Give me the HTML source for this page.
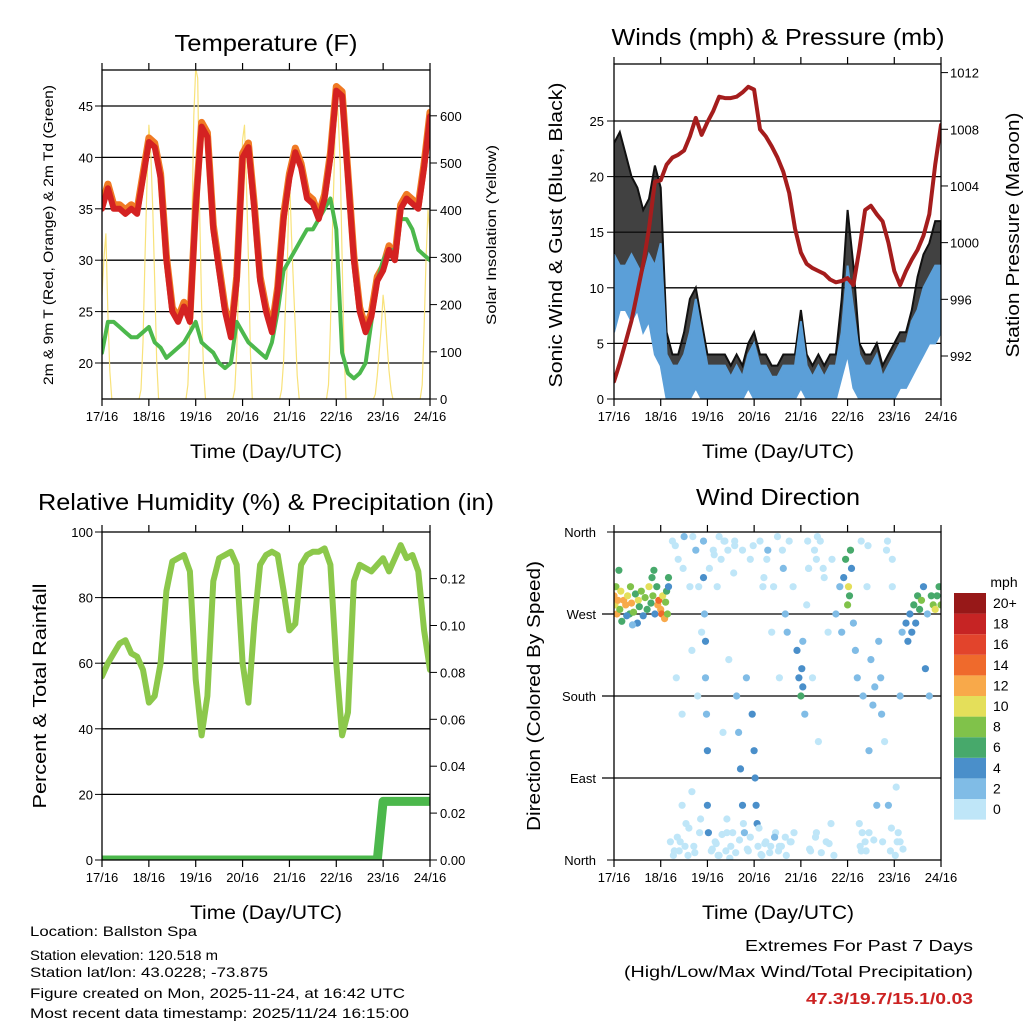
<!DOCTYPE html>
<html><head><meta charset="utf-8"><style>
html,body{margin:0;padding:0;background:#fff;width:1024px;height:1024px;overflow:hidden}
svg{display:block;font-family:"Liberation Sans",sans-serif}
</style></head><body>
<svg id="root" width="1024" height="1024" viewBox="0 0 1024 1024">
<defs>
<clipPath id="cT"><rect x="102" y="70" width="328" height="329"/></clipPath>
<clipPath id="cW"><rect x="614" y="64" width="327" height="335"/></clipPath>
<clipPath id="cR"><rect x="102" y="532" width="328" height="328"/></clipPath>
<clipPath id="cD"><rect x="614" y="532" width="327" height="328"/></clipPath>
</defs>
</svg>
<script>
// ---- data (3-hourly, t = 0..168 h from 17/16 UTC) ----
const dayLabels=["17/16","18/16","19/16","20/16","21/16","22/16","23/16","24/16"];
const tempRed=[35,37,35,35,34.5,35,34.5,38,41.5,41,38,30,25,24,25.5,24,35,43,42,33,29,25,22.5,28,40,41,35,28,25,23,27,34,38,40.5,39,36,35.5,34,36,40,46.5,46,38,30,25,23,24.5,28,29,31,30,35,36,35.5,35,39,44];
const dewGreen=[21,24,24,23.5,23,22.5,22.5,23,23.5,22,21.5,20.5,21,21.5,22,23,24,22,21.5,21,20,19.5,20,24,23,22,21.5,21,20.5,22,25,29,30,31,32,33,33,34,35,36,33,21,19,18.5,19,20,24,28,30,31,31,34,34,33,31,30.5,30];
const solar=[220,300,350,180,60,0, 0,0,0,0,0,0,0,0,0,0,0,0,0,0, 20,120,300,450,580,520,400,250,80,0, 0,0,0,0,0,0,0,0,0,0,0,0,0,0, 30,150,350,600,700,680,400,200,60,0, 0,0,0,0,0,0,0,0,0,0,0,0,0,0, 20,100,250,400,550,580,450,300,100,0, 0,0,0,0,0,0,0,0,0,0,0,0,0,0, 20,80,200,300,480,350,250,150,50,0, 0,0,0,0,0,0,0,0,0,0,0,0,0,0, 30,150,350,500,660,600,500,300,100,0, 0,0,0,0,0,0,0,0,0,0,0,0,0,0, 10,50,100,150,220,180,120,60,20,0, 0,0,0,0,0,0,0,0,0,0,0,0,0,0, 30,150,300,400,350];
const pressure=[990.2,991.5,993,994.5,996.5,998.5,1001,1004.3,1004.4,1005.5,1006,1006.2,1006.5,1007.5,1008.8,1007.6,1008.5,1009.3,1010.3,1010.2,1010.2,1010.3,1010.6,1011,1010.8,1008,1007.5,1006.8,1006,1005,1003.5,1001,999.3,998.5,998.2,998,997.8,997.4,997.2,997.3,997.5,997,999.5,1002.3,1002.6,1002,1001.5,1000,998,997,998,998.8,999.5,1000.5,1002,1005.5,1008.3];
const windLo=[6,8,8,7,8,6,7,4,3,0,0,0,0,0,1,0,0,0,0,0,0,0,0,1,0,0,0,0,0,0,0,0,1,0,0,0,0,0,0,2,4,1,0,0,0,0,0,0,0,1,1,2,3,4,5,5,6];
const windHi=[13,12,12,13,12,11,13,12,14,4,3,3,4,6,9,6,3,3,3,3,2,3,2,4,5,3,3,2,2,3,3,3,7,3,2,3,2,3,3,6,12,8,4,3,3,4,2,3,4,5,5,7,8,10,11,12,12];
const gustLo=[9,12,12,11,11,10,11,10,12,2,1,1,2,4,6,4,1,1,1,1,1,1,1,2,3,1,1,1,1,1,1,1,4,1,1,1,1,1,1,4,9,5,2,1,1,2,1,2,2,3,3,5,6,8,9,10,10];
const gustHi=[23,24,22,20,19,17,18,21,19,6,4,4,6,9,10,7,4,4,4,4,3,4,3,5,6,4,4,3,3,4,4,4,8,4,3,4,3,4,4,9,17,12,5,4,4,5,3,4,5,6,6,8,11,13,14,16,16];
const rh=[56,60,63,66,67,63,62,58,48,50,60,82,91,92,93,88,55,38,50,85,92,93,94,90,60,48,72,90,93,94,93,82,70,72,90,93,94,94,95,90,60,38,45,85,90,89,88,90,92,88,92,96,92,93,88,70,58];
const precip=[0,0,0,0,0,0,0,0,0,0,0,0,0,0,0,0,0,0,0,0,0,0,0,0,0,0,0,0,0,0,0,0,0,0,0,0,0,0,0,0,0,0,0,0,0,0,0,0,0.025,0.025,0.025,0.025,0.025,0.025,0.025,0.025,0.025];
const dirT=[0,0.5,1,1.5,2,3,3.5,4,5,6,7,8,8.5,9,10,11,12,12.5,13,14,15,16,17,18,19,20,21,22,22.5,23,24,24.5,25,26,26.5,27,27.5,28,28,20.5,19.5,2.5,6.5,9.5,
30,31,32,33,34,35,36,37,38,39,40,41,42,43,44,45,46,46,46.5,47,47,47.5,48,48,48.5,49,50,51,52,53,54,55,56,57,58,59,60,62,63,64,65,66,67,68,69,70,70,71,72,72.5,73,73.5,74,75,76,77,78,79,80,81,82,83,84,85,86,87,88,89,90,91,92,94,95,96,96.5,97,97,98,99,100,101,102,103,104,105,106,108,109,110,112,113,114,116,117,118,119,120,120.5,121,121.5,122,123,124,125,126,127,128,129,130,131,132,133,134,135,136,137,137.5,138,139,140,141,142,143,145,146,147,148,150,151,152,153,154,155,156,157,158,159,160,161,162,163,164,165,166,167,168,
29,30.5,31.5,32.5,33.5,35.5,36.5,38.5,40.5,41.5,43.5,44.5,50.5,51.5,52.5,53.5,55.5,56.5,57.5,58.5,59.5,61,61.5,62.5,64.5,66.5,68.5,71.5,74.5,75.5,76.5,77.5,78.5,80.5,82.5,84.5,86.5,88.5,90.5,92.5,99.5,100.5,103.5,104.5,106.5,107.5,110.5,111.5,126.5,127.5,129.5,130.5,133.5,140.5,142.5,144.5,145.5,148.5,54,58,35,40,62,66,85,88,100,104,127,131,143,147];
const dirDeg=[290,280,300,270,285,275,295,262,285,280,290,270,300,282,272,292,260,285,278,295,268,288,275,300,282,290,270,300,280,285,275,270,290,265,283,295,270,310,300,318,310,318,268,258,
350,10,200,330,20,160,355,40,5,300,230,15,340,180,30,250,350,310,270,240,200,160,120,60,30,320,10,340,20,300,5,330,140,350,30,220,15,345,180,140,100,60,30,200,10,330,25,160,120,90,60,40,15,350,5,310,20,340,8,250,300,30,355,200,15,320,270,250,350,20,300,230,200,180,210,240,190,160,280,320,10,200,340,30,130,350,310,20,250,330,5,270,300,250,310,330,280,300,290,340,320,260,230,200,40,350,180,20,300,120,220,170,190,60,240,200,160,20,130,340,60,10,300,80,30,180,250,260,240,270,250,280,260,290,275,285,300,210,270,180,290,280,275,290,300,280,
20,5,345,25,10,320,15,35,355,8,300,45,12,335,18,5,28,350,10,340,2,30,315,8,22,40,12,345,35,6,300,18,330,15,25,10,340,5,20,30,350,12,25,355,8,320,18,40,15,30,10,345,22,350,35,5,20,12,355,45,60,75,350,340,15,25,320,330,10,30,330,20];
const dirSpd=[12,10,9,12,13,8,11,7,12,13,10,6,9,12,8,7,4,11,6,8,5,9,7,10,6,8,5,6,13,14,12,15,11,12,9,7,8,6,4,6,7,7,4,3,
1,0,1,1,1,0,2,1,0,1,1,1,2,0,0,1,3,4,3,4,3,3,4,4,4,1,0,1,1,1,1,0,1,1,0,1,1,1,3,3,4,4,3,3,1,1,0,4,4,4,4,4,1,1,0,1,1,2,0,1,1,1,1,1,1,2,3,2,1,1,1,4,5,6,4,3,5,2,1,1,0,1,1,1,1,0,1,1,1,1,0,2,3,3,5,6,8,10,7,6,4,3,3,2,1,1,2,1,1,2,3,2,3,2,3,3,2,1,1,1,2,1,1,1,1,2,3,4,4,5,4,6,5,7,6,8,5,4,3,3,7,9,10,6,7,8,
1,0,1,0,1,1,0,1,0,1,1,0,1,0,1,0,1,1,0,1,0,1,1,0,1,0,1,0,1,1,0,1,0,1,2,0,1,0,1,1,0,1,0,1,1,0,1,1,0,1,1,0,1,0,1,1,0,1,0,1,1,0,1,0,1,1,0,1,0,1,0,1];
const speedColors=["#bfe6f8","#80bce6","#4a8fca","#47a96b","#80c24a","#e4df5a","#f8a94a","#ef6a2c","#e2442c","#c62424","#971818"];
const speedLabels=["0","2","4","6","8","10","12","14","16","18","20+"];
const tempTicks=[20,25,30,35,40,45];
const solarTicks=[0,100,200,300,400,500,600];
const windTicks=[0,5,10,15,20,25];
const presTicks=[992,996,1000,1004,1008,1012];
const rhTicks=[0,20,40,60,80,100];
const prTicks=[0,0.02,0.04,0.06,0.08,0.10,0.12];
const dirNames=["North","East","South","West","North"];
const dirTicks=[0,90,180,270,360];

const NS='http://www.w3.org/2000/svg';
const root=document.getElementById('root');
function mk(tag,attrs,parent){const e=document.createElementNS(NS,tag);for(const k in attrs)e.setAttribute(k,attrs[k]);(parent||root).appendChild(e);return e;}
function txt(s,x,y,size,anchor,name,opts){opts=opts||{};const a={x:x,y:y,'font-size':size,'text-anchor':anchor||'middle',fill:opts.fill||'#000'};
 if(opts.tl){a.textLength=opts.tl;a.lengthAdjust='spacingAndGlyphs';}
 if(opts.rot)a.transform='rotate(-90 '+x+' '+y+')';
 if(opts.bold)a['font-weight']='bold';
 const e=mk('text',a);e.textContent=s;
 
 
 return e;}
function ln(x1,y1,x2,y2,name,w,c){const e=mk('line',{x1:x1,y1:y1,x2:x2,y2:y2,stroke:c||'#000','stroke-width':w||1});
 
 
 return e;}
const hrs=i=>i*3;
// scales
const xT=t=>102+t*328/168, yT=v=>363-(v-20)*10.28, yS=v=>399-v*0.472;
const xW=t=>614+t*327/168, yW=v=>399-v*11.12, yP=p=>356-(p-992)*14.17;
const yR=v=>860-v*3.28, yPr=v=>860-v*2345;
const yD=d=>860-d*328/360;

function frame(x0,y0,x1,y1,xs,name){
 dayLabels.forEach((d,i)=>{const x=x0+i*(x1-x0)/7;
  ln(x,y1,x,y1+7,name+'-x-tick',1.2);ln(x,y0,x,y0-7,name+'-x-tick-top',1.2);
  txt(d,x,y1+22,13,'middle',name+'-x-tick-label');});
 const r=mk('rect',{x:x0,y:y0,width:x1-x0,height:y1-y0,fill:'none',stroke:'#000','stroke-width':1.3});
 
 
}
function poly(pts,color,w,name,clip){const e=mk('polyline',{points:pts.map(p=>p[0].toFixed(1)+','+p[1].toFixed(1)).join(' '),fill:'none',stroke:color,'stroke-width':w,'stroke-linejoin':'round','stroke-linecap':'round','clip-path':'url(#'+clip+')'});
 
 
 return e;}
function band(lo,hi,xf,yf,color,name,clip,op){const pts=hi.map((v,i)=>[xf(hrs(i)),yf(v)]).concat(lo.map((v,i)=>[xf(hrs(i)),yf(v)]).reverse());
 const e=mk('polygon',{points:pts.map(p=>p[0].toFixed(1)+','+p[1].toFixed(1)).join(' '),fill:color,stroke:color,'stroke-width':2,'fill-opacity':op||1,'clip-path':'url(#'+clip+')'});
 
 
 return e;}

// ===== Panel 1: Temperature =====
tempTicks.forEach(v=>{ln(102,yT(v),430,yT(v),'temp-gridline',1.3);ln(95,yT(v),102,yT(v),'temp-y-tick');txt(String(v),93,yT(v)+5,13,'end','temp-y-tick-label');});
solarTicks.forEach(v=>{ln(430,yS(v),437,yS(v),'solar-y-tick');txt(String(v),440,yS(v)+5,13,'start','solar-y-tick-label');});
poly(solar.map((v,i)=>[xT(i),yS(v)]),'#f8e27a',1.2,'solar-insolation-line','cT');
poly(tempRed.map((v,i)=>[xT(hrs(i)),yT(v+0.4)]),'#f07a24',7,'temp-9m-orange-line','cT');
poly(dewGreen.map((v,i)=>[xT(hrs(i)),yT(v)]),'#4cb84c',4,'dewpoint-green-line','cT');
poly(tempRed.map((v,i)=>[xT(hrs(i)),yT(v)]),'#d42222',6,'temp-2m-red-line','cT');
frame(102,70,430,399,xT,'temp');
txt('Temperature (F)',266,51,23,'middle','temp-title',{tl:183});
txt('2m & 9m T (Red, Orange) & 2m Td (Green)',53,235,14,'middle','temp-y-axis-title',{rot:1,tl:300});
txt('Solar Insolation (Yellow)',496,235,14,'middle','solar-y-axis-title',{rot:1,tl:180});
txt('Time (Day/UTC)',266,458,19,'middle','temp-x-axis-title',{tl:152});

// ===== Panel 2: Winds & Pressure =====
windTicks.forEach(v=>{if(v>0)ln(614,yW(v),941,yW(v),'wind-gridline',1.3);ln(607,yW(v),614,yW(v),'wind-y-tick');txt(String(v),604,yW(v)+5,13,'end','wind-y-tick-label');});
presTicks.forEach(v=>{ln(941,yP(v),948,yP(v),'pressure-y-tick');txt(String(v),950,yP(v)+5,13,'start','pressure-y-tick-label');});
band(gustLo,gustHi,xW,yW,'#111','gust-black-points','cW',0.8);
band(windLo,windHi,xW,yW,'#5b9fd8','sonic-wind-blue-band','cW');
poly(pressure.map((v,i)=>[xW(hrs(i)),yP(v)]),'#a51d1d',4,'pressure-maroon-line','cW');
frame(614,64,941,399,xW,'wind');
txt('Winds (mph) & Pressure (mb)',778,45,23,'middle','wind-title',{tl:333});
txt('Sonic Wind & Gust (Blue, Black)',562,235,18,'middle','wind-y-axis-title',{rot:1,tl:305});
txt('Station Pressure (Maroon)',1019,235,18,'middle','pressure-y-axis-title',{rot:1,tl:245});
txt('Time (Day/UTC)',778,458,19,'middle','wind-x-axis-title',{tl:152});

// ===== Panel 3: RH & Precip =====
rhTicks.forEach(v=>{if(v>0&&v<100)ln(102,yR(v),430,yR(v),'rh-gridline',1.3);ln(95,yR(v),102,yR(v),'rh-y-tick');txt(String(v),93,yR(v)+5,13,'end','rh-y-tick-label');});
prTicks.forEach(v=>{ln(430,yPr(v),437,yPr(v),'precip-y-tick');txt(v.toFixed(2),440,yPr(v)+5,13,'start','precip-y-tick-label');});
poly(rh.map((v,i)=>[xT(hrs(i)),yR(v)]),'#8cc84b',6,'relative-humidity-line','cR');
poly(precip.map((v,i)=>[xT(hrs(i)),yPr(v)]),'#4cb84c',9,'precipitation-line','cR');
frame(102,532,430,860,xT,'rh');
txt('Relative Humidity (%) & Precipitation (in)',266,510,23,'middle','rh-title',{tl:456});
txt('Percent & Total Rainfall',46,696,18,'middle','rh-y-axis-title',{rot:1,tl:225});
txt('Time (Day/UTC)',266,919,19,'middle','rh-x-axis-title',{tl:152});

// ===== Panel 4: Wind Direction =====
dirTicks.forEach((d,i)=>{if(d>0&&d<360)ln(602,yD(d),941,yD(d),'direction-gridline',1.3);ln(607,yD(d),614,yD(d),'direction-y-tick');txt(dirNames[i],596,yD(d)+5,13,'end','direction-y-tick-label');});
dirT.forEach((t,i)=>{const s=dirSpd[i];const ci=Math.min(10,Math.floor(s/2));
 const c=mk('circle',{cx:xW(t).toFixed(1),cy:yD(dirDeg[i]).toFixed(1),r:3.6,fill:speedColors[ci],'clip-path':'url(#cD)'});
 
 });
frame(614,532,941,860,xW,'direction');
txt('Wind Direction',778,505,23,'middle','direction-title',{tl:164});
txt('Direction (Colored By Speed)',540,696,18,'middle','direction-y-axis-title',{rot:1,tl:270});
txt('Time (Day/UTC)',778,919,19,'middle','direction-x-axis-title',{tl:152});
// colorbar
txt('mph',1004,587,14,'middle','colorbar-unit-label');
speedColors.forEach((c,i)=>{const y=799-i*20.6;
 const r=mk('rect',{x:954,y:y,width:32,height:20.6,fill:c});
 
 
 txt(speedLabels[i],993,y+15,14,'start','colorbar-label');});

// ===== Footer =====
txt('Location: Ballston Spa',30,936,14,'start','location-text',{tl:167});
txt('Station elevation: 120.518 m',30,960,14,'start','elevation-text',{tl:188});
txt('Station lat/lon: 43.0228; -73.875',30,977,14,'start','latlon-text',{tl:238});
txt('Figure created on Mon, 2025-11-24, at 16:42 UTC',30,998,14,'start','created-text',{tl:375});
txt('Most recent data timestamp: 2025/11/24 16:15:00',30,1018,14,'start','timestamp-text',{tl:379});
txt('Extremes For Past 7 Days',973,951,16,'end','extremes-title',{tl:228});
txt('(High/Low/Max Wind/Total Precipitation)',973,977,16,'end','extremes-subtitle',{tl:349});
txt('47.3/19.7/15.1/0.03',973,1004,16,'end','extremes-values',{tl:167,bold:1,fill:'#cc2222'});
</script>
</body></html>
